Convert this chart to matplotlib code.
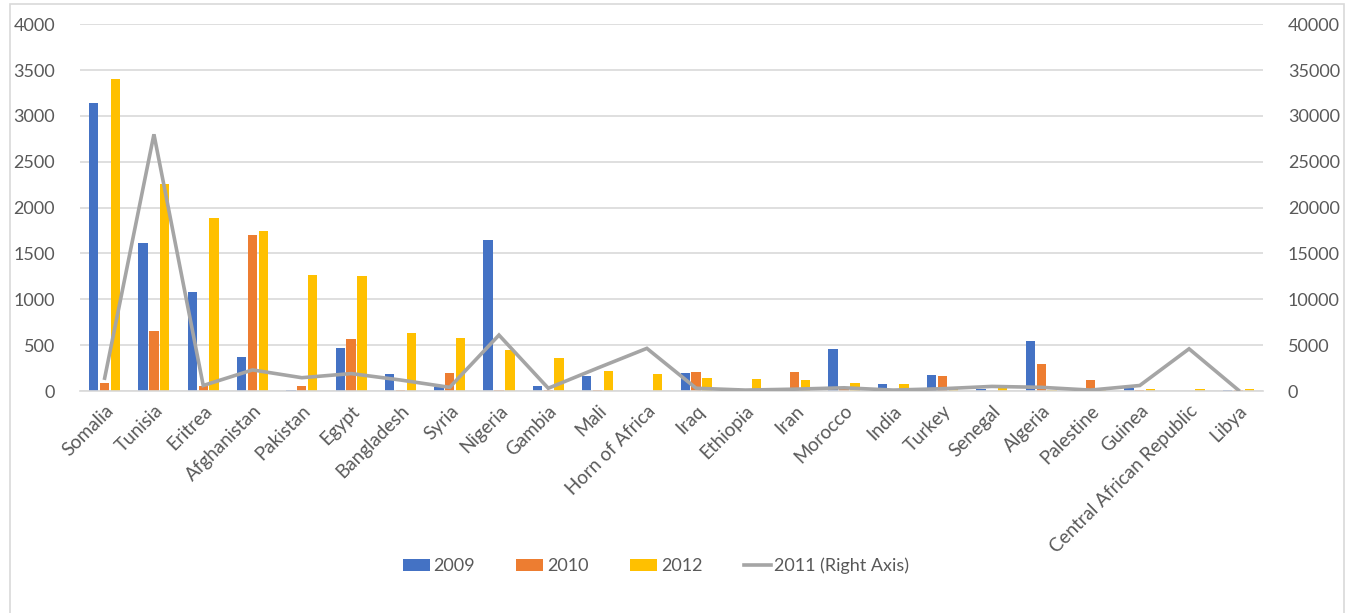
import numpy as np
import matplotlib
matplotlib.use("Agg")
import matplotlib.pyplot as plt
from matplotlib.patches import Rectangle

plt.rcParams['font.family'] = ['Lato', 'DejaVu Sans']

countries = ['Somalia', 'Tunisia', 'Eritrea', 'Afghanistan', 'Pakistan', 'Egypt',
             'Bangladesh', 'Syria', 'Nigeria', 'Gambia', 'Mali', 'Horn of Africa',
             'Iraq', 'Ethiopia', 'Iran', 'Morocco', 'India', 'Turkey', 'Senegal',
             'Algeria', 'Palestine', 'Guinea', 'Central African Republic', 'Libya']

y2009 = [3140, 1610, 1080, 370, 15, 470, 185, 45, 1650, 50, 165, 0,
         195, 35, 30, 455, 75, 175, 20, 550, 30, 35, 0, 15]
y2010 = [90, 650, 50, 1700, 50, 570, 10, 195, 10, 8, 10, 0,
         210, 0, 210, 45, 0, 160, 0, 295, 125, 15, 0, 15]
y2012 = [3400, 2260, 1890, 1740, 1260, 1250, 630, 580, 450, 360, 220, 185,
         145, 135, 115, 85, 75, 45, 35, 15, 15, 25, 25, 25]
y2011 = [1400, 28000, 600, 2300, 1450, 1900, 1200, 400, 6100, 300, 2500, 4650,
         300, 100, 200, 350, 100, 250, 500, 400, 100, 600, 4600, 100]

blue, orange, yellow, grey = '#4472c4', '#ed7d31', '#ffc000', '#a5a5a5'
txt = '#595959'

fig = plt.figure(figsize=(13.51, 6.13), dpi=100)
fig.patches.append(Rectangle((9.5 / 1351, -0.01), (1344 - 9.5) / 1351, 1.0 - 4 / 613 + 0.01,
                             transform=fig.transFigure, fill=False,
                             edgecolor='#d9d9d9', linewidth=1.2))

ax = fig.add_axes([80 / 1351, 222 / 613, 1183 / 1351, 366.7 / 613])
x = np.arange(len(countries))
w = 0.19
step = 0.22
ax.bar(x - step, y2009, w, color=blue, linewidth=0, label='2009', zorder=2)
ax.bar(x, y2010, w, color=orange, linewidth=0, label='2010', zorder=2)
ax.bar(x + step, y2012, w, color=yellow, linewidth=0, label='2012', zorder=2)

ax.set_xlim(-0.5, len(countries) - 0.5)
ax.set_ylim(0, 4000)
ax.set_yticks(np.arange(0, 4001, 500))
ax.grid(axis='y', color='#d9d9d9', linewidth=1.2, zorder=0)
ax.set_axisbelow(True)
for s in ['top', 'right', 'left']:
    ax.spines[s].set_visible(False)
ax.spines['bottom'].set_color('#d9d9d9')
ax.spines['bottom'].set_linewidth(1.2)
ax.set_xticks(x)
ax.set_xticklabels(countries, rotation=45, ha='right', rotation_mode='anchor',
                   fontsize=13.5, color=txt)
ax.tick_params(axis='x', length=0, pad=8)
ax.tick_params(axis='y', length=0, labelsize=13, labelcolor=txt, pad=18)

ax2 = ax.twinx()
ax2.plot(x, y2011, color=grey, linewidth=2.6, label='2011 (Right Axis)',
         solid_joinstyle='miter', zorder=3)
ax2.set_ylim(0, 40000)
ax2.set_yticks(np.arange(0, 40001, 5000))
for s in ['top', 'right', 'left', 'bottom']:
    ax2.spines[s].set_visible(False)
ax2.tick_params(axis='y', length=0, labelsize=13, labelcolor=txt, pad=18)

h1, l1 = ax.get_legend_handles_labels()
h2, l2 = ax2.get_legend_handles_labels()
fig.legend(h1 + h2, l1 + l2, loc='center', bbox_to_anchor=(656 / 1351, 1 - 566 / 613),
           ncol=4, frameon=False, fontsize=13, labelcolor=txt,
           handlelength=1.5, handleheight=0.7, columnspacing=2.3, handletextpad=0.2)

fig.savefig('out.png', dpi=100)
